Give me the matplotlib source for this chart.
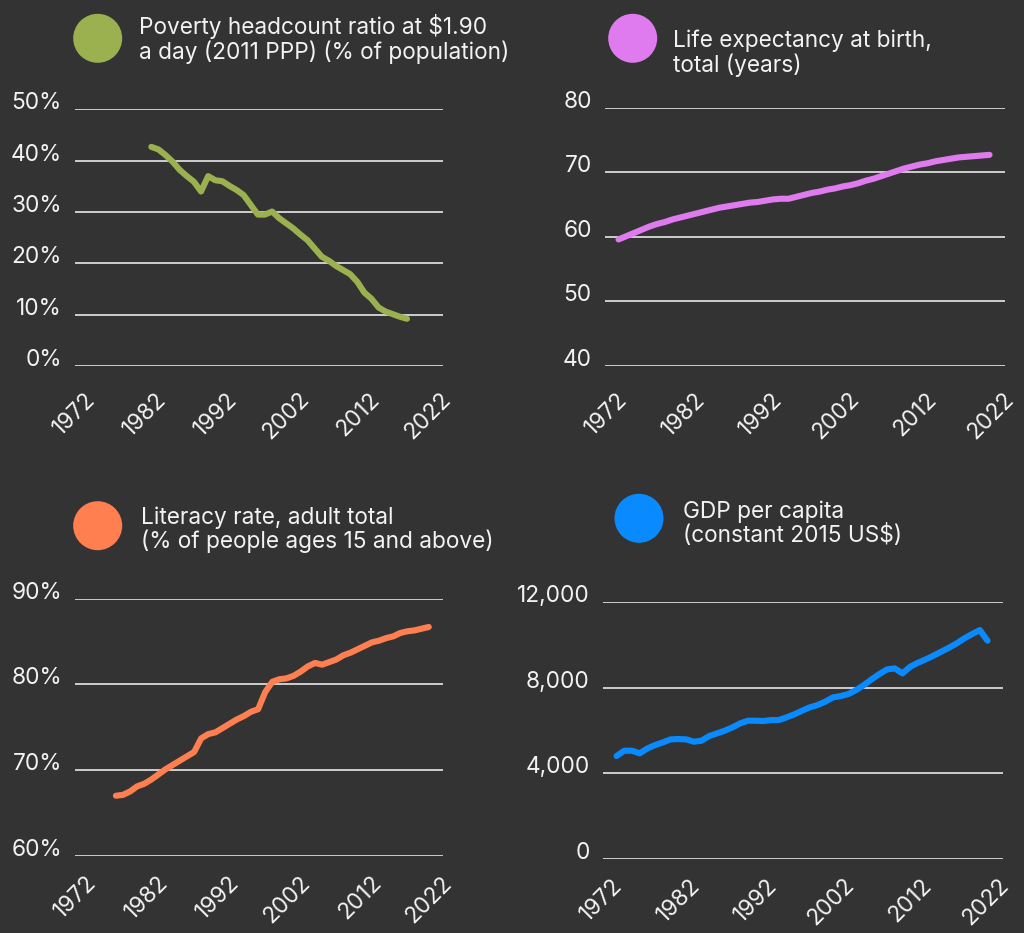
import matplotlib
matplotlib.use("Agg")
import matplotlib.pyplot as plt
from matplotlib.patches import Ellipse
from matplotlib.transforms import ScaledTranslation

plt.rcParams['font.family'] = ['Inter', 'DejaVu Sans']

W, H = 1024, 933
BG = '#333333'
TXT = '#f2f2f2'
GRID = '#e8e8e8'
FS = 16.3

# ---------------- data ----------------
poverty_years = list(range(1981, 2018))
poverty_vals = [42.7, 42.2, 41.1, 39.8, 38.2, 37.0, 35.9, 34.0, 37.0, 36.2,
                36.0, 35.1, 34.3, 33.3, 31.4, 29.5, 29.5, 30.1, 28.8, 27.8,
                26.8, 25.6, 24.5, 22.9, 21.3, 20.5, 19.5, 18.7, 17.9, 16.4,
                14.3, 13.1, 11.4, 10.6, 10.1, 9.6, 9.2]

life_years = list(range(1972, 2021))
life_vals = [59.6, 60.1, 60.6, 61.1, 61.6, 62.0, 62.3, 62.7, 63.0, 63.3,
             63.6, 63.9, 64.2, 64.5, 64.7, 64.9, 65.1, 65.3, 65.4, 65.6,
             65.8, 65.9, 65.9, 66.2, 66.5, 66.8, 67.0, 67.3, 67.5, 67.8,
             68.0, 68.3, 68.7, 69.0, 69.4, 69.8, 70.2, 70.6, 70.9, 71.2,
             71.4, 71.7, 71.9, 72.1, 72.3, 72.4, 72.5, 72.6, 72.7]

lit_years = list(range(1976, 2021))
lit_vals = [67.0, 67.1, 67.5, 68.1, 68.4, 68.9, 69.5, 70.1, 70.6, 71.1,
            71.6, 72.1, 73.7, 74.2, 74.4, 74.9, 75.4, 75.9, 76.3, 76.8,
            77.1, 79.1, 80.3, 80.6, 80.7, 81.0, 81.5, 82.1, 82.5, 82.3,
            82.6, 82.9, 83.4, 83.7, 84.1, 84.5, 84.9, 85.1, 85.4, 85.6,
            86.0, 86.2, 86.3, 86.5, 86.7]

gdp_years = list(range(1972, 2021))
gdp_vals = [4813, 5062, 5062, 4938, 5171, 5327, 5452, 5592, 5608, 5592,
            5483, 5530, 5748, 5872, 5997, 6153, 6340, 6464, 6464, 6449,
            6495, 6495, 6620, 6760, 6931, 7087, 7196, 7352, 7555, 7617,
            7710, 7897, 8131, 8396, 8645, 8863, 8910, 8676, 8988, 9174,
            9330, 9502, 9688, 9875, 10078, 10312, 10514, 10701, 10202]

year_ticks = [1972, 1982, 1992, 2002, 2012, 2022]

panels = [
    dict(title=["Poverty headcount ratio at $1.90", "a day (2011 PPP) (% of population)"],
         color='#9bb04f', x=poverty_years, y=poverty_vals,
         yticks=[0, 10, 20, 30, 40, 50], ylabels=['0%', '10%', '20%', '30%', '40%', '50%'],
         ylim=(0, 50), box=(75, 109.4, 442.5, 366), xpad=19, xshift=5,
         circle=(97.7, 38.3), tx=139, tb=(34.3, 59.3)),
    dict(title=["Life expectancy at birth,", "total (years)"],
         color='#e07bef', x=life_years, y=life_vals,
         yticks=[40, 50, 60, 70, 80], ylabels=['40', '50', '60', '70', '80'],
         ylim=(40, 80), box=(605, 107.7, 1005, 366), xpad=19, xshift=6,
         circle=(632.7, 38.3), tx=672.7, tb=(46.7, 71.7)),
    dict(title=["Literacy rate, adult total", "(% of people ages 15 and above)"],
         color='#ff7f50', x=lit_years, y=lit_vals,
         yticks=[60, 70, 80, 90], ylabels=['60%', '70%', '80%', '90%'],
         ylim=(60, 90), box=(75, 598.7, 443, 855.7), xpad=13, xshift=6,
         circle=(97.7, 525.7), tx=140.7, tb=(524, 548)),
    dict(title=["GDP per capita", "(constant 2015 US$)"],
         color='#0a8aff', x=gdp_years, y=gdp_vals,
         yticks=[0, 4000, 8000, 12000], ylabels=['0', '4,000', '8,000', '12,000'],
         ylim=(0, 12000), box=(603, 602.3, 1003, 859), xpad=12, xshift=3,
         circle=(639, 518.3), tx=683, tb=(518, 541.7)),
]

fig = plt.figure(figsize=(W / 100, H / 100), dpi=100, facecolor=BG)

for p in panels:
    x0, y0, x1, y1 = p['box']
    ax = fig.add_axes([x0 / W, 1 - y1 / H, (x1 - x0) / W, (y1 - y0) / H])
    ax.set_facecolor(BG)
    for s in ax.spines.values():
        s.set_visible(False)
    ax.plot(p['x'], p['y'], color=p['color'], lw=4.4, solid_capstyle='round',
            solid_joinstyle='round', clip_on=False, zorder=3)
    ax.set_ylim(*p['ylim'])
    ax.set_xlim(1970.25, 2021.8)
    ax.set_yticks(p['yticks'])
    ax.set_yticklabels(p['ylabels'])
    ax.set_xticks(year_ticks)
    ax.set_xticklabels([str(t) for t in year_ticks])
    ax.grid(axis='y', color=GRID, lw=1.2)
    ax.grid(axis='x', visible=False)
    ax.set_axisbelow(True)
    ax.tick_params(axis='y', length=0, pad=9.5, labelsize=FS, labelcolor=TXT)
    ax.tick_params(axis='x', length=0, pad=p['xpad'] * 0.72 + 8, labelsize=FS, labelcolor=TXT)
    for lab in ax.get_yticklabels():
        lab.set_verticalalignment('baseline')
    off = ScaledTranslation(p['xshift'] / 100, 0, fig.dpi_scale_trans)
    for lab in ax.get_xticklabels():
        lab.set_rotation(45)
        lab.set_ha('right')
        lab.set_va('center')
        lab.set_rotation_mode('anchor')
        lab.set_transform(lab.get_transform() + off)

    cx, cy = p['circle']
    fig.add_artist(Ellipse((cx / W, 1 - cy / H), 2 * 24.5 / W, 2 * 24.5 / H,
                           transform=fig.transFigure, color=p['color'], lw=0))
    for line, b in zip(p['title'], p['tb']):
        fig.text(p['tx'] / W, 1 - b / H, line, color=TXT, fontsize=FS,
                 ha='left', va='baseline')

fig.savefig('out.png', dpi=100, facecolor=BG)
